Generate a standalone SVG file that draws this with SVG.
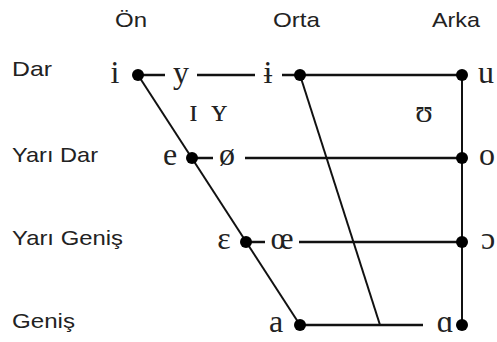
<svg xmlns="http://www.w3.org/2000/svg" width="497" height="342" viewBox="0 0 497 342">
<style>
.lbl{font-family:"Liberation Sans",Arial,sans-serif;font-size:21px;fill:#222}
.ipa{font-family:"Liberation Serif","DejaVu Serif",serif;font-size:32px;fill:#222;text-anchor:middle}
.ln{stroke:#111;stroke-width:2.5;fill:none}
.thin{stroke:#111;stroke-width:2;fill:none}
.dot{fill:#000}
</style>
<rect width="497" height="342" fill="#fff"/>
<g id="headers">
<text class="lbl" x="115" y="27" textLength="32" lengthAdjust="spacingAndGlyphs">Ön</text>
<text class="lbl" x="273" y="27" textLength="47" lengthAdjust="spacingAndGlyphs">Orta</text>
<text class="lbl" x="432" y="27" textLength="48" lengthAdjust="spacingAndGlyphs">Arka</text>
</g>
<g id="rows">
<text class="lbl" x="12" y="76" textLength="40" lengthAdjust="spacingAndGlyphs">Dar</text>
<text class="lbl" x="12" y="162" textLength="86" lengthAdjust="spacingAndGlyphs">Yarı Dar</text>
<text class="lbl" x="12" y="245" textLength="111" lengthAdjust="spacingAndGlyphs">Yarı Geniş</text>
<text class="lbl" x="12" y="328" textLength="63" lengthAdjust="spacingAndGlyphs">Geniş</text>
</g>
<g id="connectors">
<line class="ln" x1="138" y1="75" x2="165" y2="75"/>
<line class="ln" x1="197" y1="75" x2="255" y2="75"/>
<line class="ln" x1="282" y1="75" x2="462" y2="75"/>
<line class="ln" x1="192" y1="158" x2="213" y2="158"/>
<line class="ln" x1="245" y1="158" x2="462" y2="158"/>
<line class="ln" x1="246" y1="242" x2="265" y2="242"/>
<line class="ln" x1="299" y1="242" x2="462" y2="242"/>
<line class="ln" x1="300" y1="325" x2="423" y2="325"/>
<line class="thin" x1="462" y1="75" x2="462" y2="325"/>
<line class="thin" x1="138" y1="75" x2="300" y2="325"/>
<line class="thin" x1="300" y1="75" x2="380" y2="325"/>
</g>
<g id="node-i"><circle class="dot" cx="138" cy="75" r="6"/><text class="ipa" x="115" y="83">i</text></g>
<g id="node-y"><text class="ipa" x="181" y="83">y</text></g>
<g id="node-barred-i"><circle class="dot" cx="300" cy="75" r="6"/><text class="ipa" x="268" y="83">ɨ</text></g>
<g id="node-u"><circle class="dot" cx="462" cy="75" r="6"/><text class="ipa" x="486" y="83">u</text></g>
<g id="node-IY"><text class="ipa" x="208" y="121" textLength="38" lengthAdjust="spacing">ɪ ʏ</text></g>
<g id="node-upsilon"><text class="ipa" x="424" y="122">ʊ</text></g>
<g id="node-e"><circle class="dot" cx="192" cy="158" r="6"/><text class="ipa" x="170" y="165">e</text></g>
<g id="node-oslash"><text class="ipa" x="227" y="165">ø</text></g>
<g id="node-o"><circle class="dot" cx="462" cy="158" r="6"/><text class="ipa" x="487" y="165">o</text></g>
<g id="node-epsilon"><circle class="dot" cx="246" cy="242" r="6"/><text class="ipa" x="224" y="249">ɛ</text></g>
<g id="node-oe"><text class="ipa" x="282" y="249">œ</text></g>
<g id="node-open-o"><circle class="dot" cx="462" cy="242" r="6"/><text class="ipa" x="488" y="249">ɔ</text></g>
<g id="node-a"><circle class="dot" cx="300" cy="325" r="6"/><text class="ipa" x="276" y="332">a</text></g>
<g id="node-alpha"><circle class="dot" cx="462" cy="325" r="6"/><text class="ipa" x="445" y="332">ɑ</text></g>
</svg>
